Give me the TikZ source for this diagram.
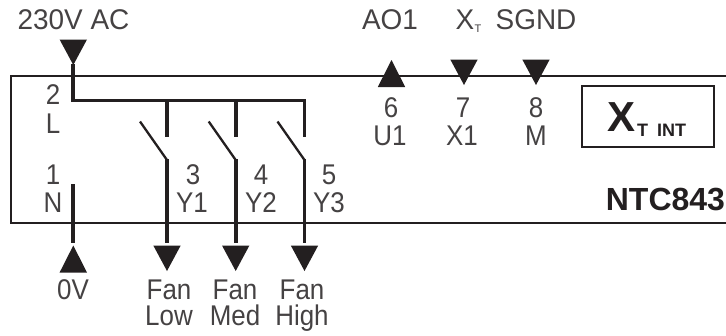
\documentclass[tikz,border=0pt]{standalone}
\usepackage{fontspec}
\setmainfont{Liberation Sans}
\newfontfamily\lblfont[FakeStretch=0.91]{Liberation Sans}
\newfontfamily\topfont[FakeStretch=0.98]{Liberation Sans}
\definecolor{ink}{HTML}{231F20}
\definecolor{lbl}{HTML}{454243}
\tikzset{
  wire/.style={draw=ink,line width=3.6pt},
  frameline/.style={draw=ink,line width=2pt},
  blade/.style={draw=ink,line width=2.3pt},
  tri/.style={fill=ink},
  lab/.style={anchor=base,inner sep=0pt,outer sep=0pt,text=lbl,font=\lblfont\fontsize{28.5}{28.5}\selectfont},
  biglab/.style={lab,font=\topfont\fontsize{28.5}{28.5}\selectfont},
  boldlab/.style={anchor=base,inner sep=0pt,outer sep=0pt,text=ink,font=\bfseries\fontsize{32}{32}\selectfont},
}
\newcommand{\triD}[2]{\fill[tri] (#1-13.7,#2) -- (#1+13.7,#2) -- (#1,#2+25.5) -- cycle;}
\newcommand{\triU}[2]{\fill[tri] (#1-13.7,#2) -- (#1+13.7,#2) -- (#1,#2-27) -- cycle;}
\begin{document}
\begin{tikzpicture}[x=1pt,y=-1pt]
\useasboundingbox (0,0) rectangle (726,335);
% frame
\coordinate (fTR) at (726,75.5);
\coordinate (fTL) at (11,75.5);
\coordinate (fBL) at (11,223);
\coordinate (fBR) at (726,223);
\draw[frameline,line join=miter] (fTR) -- (fTL) -- (fBL) -- (fBR);
% terminals
\coordinate (L) at (73,64);
\coordinate (Lc) at (73,100.5);
\coordinate (busE) at (304.5,100.5);
\coordinate (c1) at (167,137);
\coordinate (c2) at (235.7,137);
\coordinate (c3) at (304.5,137);
\coordinate (b1) at (167,100.5);
\coordinate (b2) at (235.7,100.5);
\draw[wire,line join=miter] (L) -- (Lc) -- (busE) -- (c3);
\draw[wire] (b1) -- (c1);
\draw[wire] (b2) -- (c2);
% switches
\coordinate (s1a) at (140,121.5);
\coordinate (s1b) at (167,160);
\coordinate (s2a) at (208.7,121.5);
\coordinate (s2b) at (235.7,160);
\coordinate (s3a) at (277.5,121.5);
\coordinate (s3b) at (304.5,160);
\draw[blade] (s1a) -- (s1b);
\draw[blade] (s2a) -- (s2b);
\draw[blade] (s3a) -- (s3b);
\coordinate (o1) at (167,243);
\coordinate (o2) at (235.7,243);
\coordinate (o3) at (304.5,243);
\draw[wire] (s1b) ++(0,-1) -- (o1);
\draw[wire] (s2b) ++(0,-1) -- (o2);
\draw[wire] (s3b) ++(0,-1) -- (o3);
\coordinate (nT) at (73,184);
\coordinate (nB) at (73,243);
\draw[wire] (nT) -- (nB);
% triangles
\triD{73.3}{39.5}
\triD{167}{245.5}
\triD{235.7}{245.5}
\triD{304.5}{245.5}
\triU{73.3}{272.5}
\triU{391.5}{87}
\triD{464}{59.5}
\triD{536}{59.5}
% internal box
\node[draw=ink,line width=1.7pt,minimum width=132pt,minimum height=61.5pt,inner sep=0pt,anchor=center] (xint) at (648,116.5) {};
\node[anchor=base west,inner sep=0pt,text=ink,font=\bfseries\fontsize{42}{42}\selectfont] (xX) at (607,131) {X};
\node[anchor=base west,inner sep=0pt,text=ink,font=\bfseries\fontsize{18}{18}\selectfont] (xT) at (637,136) {T};
\node[anchor=base west,inner sep=0pt,text=ink,font=\bfseries\fontsize{18}{18}\selectfont] (xI) at (657,136) {INT};
\node[boldlab,anchor=base east] (ntc) at (725,210) {NTC843};
% labels
\node[biglab] (l230) at (73.5,29) {230V AC};
\node[biglab] (lAO) at (390,29) {AO1};
\node[biglab,anchor=base west] (lX) at (455.5,29) {X};
\node[anchor=base west,inner sep=0pt,text=lbl,font=\fontsize{11}{11}\selectfont] (lT) at (474.5,32) {T};
\node[biglab] (lS) at (536,29) {SGND};
\node[lab] (n2) at (53,104) {2};
\node[lab] (nL) at (53,133) {L};
\node[lab] (n1) at (53,184) {1};
\node[lab] (nN) at (53,212) {N};
\node[lab] (n3) at (193,184) {3};
\node[lab] (nY1) at (192,212) {Y1};
\node[lab] (n4) at (261,184) {4};
\node[lab] (nY2) at (261,212) {Y2};
\node[lab] (n5) at (329,184) {5};
\node[lab] (nY3) at (329,212) {Y3};
\node[lab] (n6) at (391,117) {6};
\node[lab] (nU1) at (390,145) {U1};
\node[lab] (n7) at (463,117) {7};
\node[lab] (nX1) at (462,145) {X1};
\node[lab] (n8) at (536,117) {8};
\node[lab] (nM) at (536,145) {M};
\node[lab] (l0V) at (73,299) {0V};
\node[lab] (f1) at (169,299) {Fan};
\node[lab] (f2) at (235,299) {Fan};
\node[lab] (f3) at (302,299) {Fan};
\node[lab] (g1) at (169,325) {Low};
\node[lab] (g2) at (235,325) {Med};
\node[lab] (g3) at (302,325) {High};
\end{tikzpicture}
\end{document}
